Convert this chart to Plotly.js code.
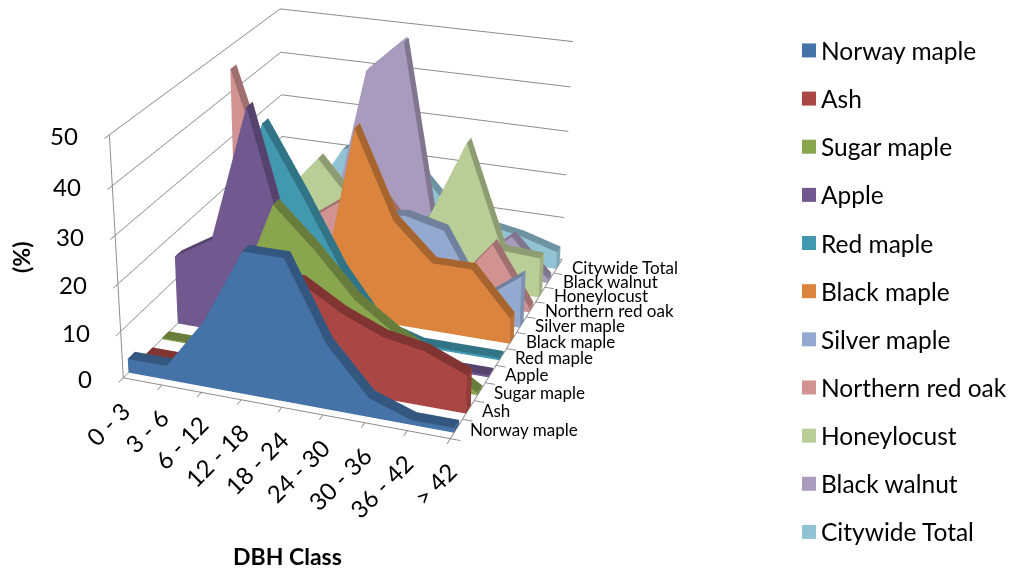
<!DOCTYPE html>
<html>
<head>
<meta charset="utf-8">
<script src="https://cdn.plot.ly/plotly-3.0.1.min.js"></script>
<style>
html,body{margin:0;padding:0;width:1014px;height:573px;overflow:hidden;background:#fff}
#wrap{position:absolute;left:0;top:0;width:1014px;height:573px;overflow:hidden}
#chart{position:absolute}
</style>
</head>
<body>
<div id="wrap"><div id="chart"></div></div>
<script>
const categories = ["0 - 3","3 - 6","6 - 12","12 - 18","18 - 24","24 - 30","30 - 36","36 - 42","> 42"];
const seriesNames = ["Norway maple","Ash","Sugar maple","Apple","Red maple","Black maple","Silver maple","Northern red oak","Honeylocust","Black walnut","Citywide Total"];
const norwayMaple = [3,3,14,29.7,29.7,13.5,4,1,1];
const ash = [0.3,0.3,10,22,21.5,16.5,13,11.5,8];
const sugarMaple = [0.3,0.3,12,33,25,15.8,10,5.8,0.5];
const apple = [15,20,49,19,10,4,1,0.5,0.5];
const redMaple = [5,15,43,29,14,3,0.5,0.5,0.5];
const blackMaple = [0,0,0,0,41.5,23,15,15,5.5];
const silverMaple = [0,0,3,12,20,21,19,5,11.5];
const northernRedOak = [45,20,13,19,22,12,3.5,14,1];
const honeylocust = [10,15,24.5,15,10,14,32.5,9.5,9];
const blackWalnut = [2,3,6,42.8,50.5,3,2,9.5,1];
const citywideTotal = [3,8,21,24,20,11,8,6.5,4];
const seriesValues = [norwayMaple,ash,sugarMaple,apple,redMaple,blackMaple,silverMaple,northernRedOak,honeylocust,blackWalnut,citywideTotal];
const faceColors = ["#4572A7","#AA4643","#89A54E","#71588F","#4198AF","#DB843D","#93A9CF","#D19392","#B9CD96","#A99BBD","#92C3D4"];
const zTicks = [0,10,20,30,40,50];

const W=1400,H=1520,LEFT=-343,TOP=-557;
const el=document.getElementById('chart');
el.style.left=LEFT+'px';el.style.top=TOP+'px';el.style.width=W+'px';el.style.height=H+'px';
const px=x=>(x-LEFT)/W, py=y=>1-(y-TOP)/H;

function shade(hex,f){
  const n=parseInt(hex.slice(1),16);
  const c=[(n>>16)&255,(n>>8)&255,n&255].map(v=>Math.round(v*f));
  return 'rgb('+c.join(',')+')';
}
function slab(vals,row,color){
  const yf=row+0.3,yb=row+0.72;
  const X=[],Y=[],Z=[],I=[],J=[],K=[],FC=[];
  vals.forEach((v,i)=>{
    X.push(i,i,i,i);Y.push(yf,yf,yb,yb);Z.push(0,v,0,v);
  });
  const quad=(a,b,c,d,col)=>{I.push(a,a);J.push(b,c);K.push(c,d);FC.push(col,col);};
  const front=color, top=shade(color,0.76), side=shade(color,0.86);
  for(let i=0;i<vals.length-1;i++){
    const p=i*4,q=(i+1)*4;
    quad(p+2,q+2,q+3,p+3,front);
    quad(p+1,q+1,q+3,p+3,top);
    quad(p,q,q+1,p+1,front);
  }
  const e=(vals.length-1)*4;
  quad(e,e+2,e+3,e+1,side);
  quad(0,2,3,1,side);
  return {type:'mesh3d',x:X,y:Y,z:Z,i:I,j:J,k:K,facecolor:FC,flatshading:true,
    lighting:{ambient:1,diffuse:0,specular:0,roughness:1,fresnel:0},
    hoverinfo:'skip',showlegend:false,showscale:false,scene:'scene'};
}
const traces=seriesValues.map((v,r)=>slab(v,r,faceColors[r]));
seriesNames.forEach((n,r)=>traces.push({type:'scatter',x:[null],y:[null],mode:'markers',name:n,legendgroup:'g'+r,
  marker:{symbol:'square',size:14,color:faceColors[r],angle:90,standoff:8},showlegend:true,hoverinfo:'skip'}));

const FONT='Lato, "Open Sans", sans-serif';
const sceneAnn=[];
categories.forEach((c,i)=>sceneAnn.push({x:i,y:0,z:0,text:c,showarrow:false,textangle:-45,xanchor:'right',yanchor:'top',xshift:15,yshift:-15,font:{family:FONT,size:24,color:'#000'}}));
seriesNames.forEach((n,r)=>sceneAnn.push({x:8,y:r+0.5,z:0,text:n,showarrow:false,xanchor:'left',yanchor:'middle',xshift:12,yshift:-1,font:{family:FONT,size:17,color:'#000'}}));
zTicks.forEach(t=>sceneAnn.push({x:0,y:0,z:t,text:String(t),showarrow:false,xanchor:'right',yanchor:'middle',xshift:-29,yshift:-1,font:{family:FONT,size:24,color:'#000'}}));

const axisBase={showbackground:false,showspikes:false,showticklabels:false,zeroline:false,showline:true,linecolor:'#8c8c8c',linewidth:2,
  ticks:'outside',ticklen:8,tickcolor:'#8c8c8c',tickwidth:2,title:{text:''}};
const layout={
  width:W,height:H,margin:{l:0,r:0,t:0,b:0},paper_bgcolor:'#fff',plot_bgcolor:'rgba(0,0,0,0)',
  font:{family:FONT,color:'#000'},
  xaxis:{visible:false,domain:[0,0.01]},yaxis:{visible:false,domain:[0,0.01]},
  scene:{domain:{x:[0,1],y:[0,1]},aspectmode:'manual',aspectratio:{x:0.94,y:1.16,z:0.715},
    camera:{eye:{x:1.661,y:-4.518,z:2.080},center:{x:0,y:0,z:0},up:{x:0,y:0,z:1}},
    xaxis:Object.assign({},axisBase,{range:[0,8],tickvals:categories.map((c,i)=>i),showgrid:false}),
    yaxis:Object.assign({},axisBase,{range:[0,11],tickvals:seriesNames.map((c,i)=>i),showgrid:false}),
    zaxis:Object.assign({},axisBase,{range:[0,50],tickvals:zTicks,showgrid:true,gridcolor:'#8c8c8c',gridwidth:2}),
    annotations:sceneAnn},
  legend:{x:px(781),y:py(28),xanchor:'left',yanchor:'top',traceorder:'grouped',tracegroupgap:13.3,font:{family:FONT,size:24.5,color:'#000'},bgcolor:'rgba(0,0,0,0)'},
  annotations:[
    {xref:'paper',yref:'paper',x:px(21),y:py(258),xanchor:'center',yanchor:'middle',text:'<b>(%)</b>',showarrow:false,textangle:-90,font:{family:FONT,size:23,color:'#000'}},
    {xref:'paper',yref:'paper',x:px(287),y:py(556),xanchor:'center',yanchor:'middle',text:'<b>DBH Class</b>',showarrow:false,font:{family:FONT,size:23,color:'#000'}}
  ]
};
Plotly.newPlot(el,traces,layout,{displayModeBar:false,plotGlPixelRatio:2});
</script>
</body>
</html>
